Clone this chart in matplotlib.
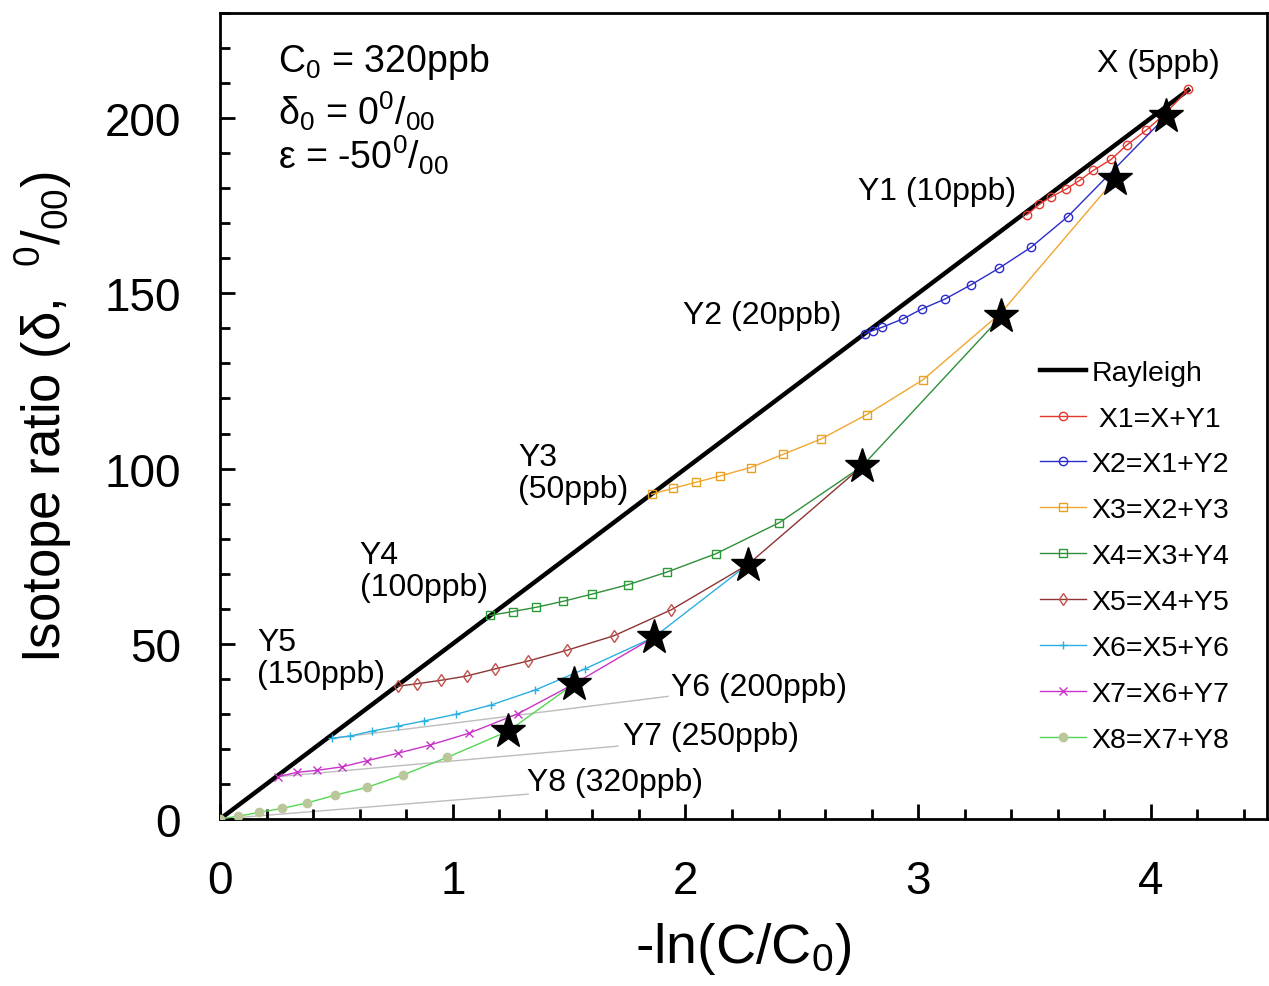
import matplotlib
matplotlib.use('Agg')
import matplotlib.pyplot as plt
from matplotlib.ticker import MultipleLocator

plt.rcParams['font.family'] = ['Liberation Sans', 'DejaVu Sans']
plt.rcParams['mathtext.fontset'] = 'custom'
plt.rcParams['mathtext.rm'] = 'Liberation Sans'
plt.rcParams['mathtext.it'] = 'Liberation Sans:italic'

# Rayleigh line end points
ray_x = [0.0, 4.16]
ray_y = [0.0, 208.0]

# mixing curves
x1_x = [4.161, 4.065, 3.979, 3.896, 3.829, 3.753, 3.691, 3.634, 3.571, 3.520, 3.467]
x1_y = [208.2, 201.5, 196.5, 192.3, 188.2, 185.1, 182.1, 179.7, 177.5, 175.4, 172.4]
x2_x = [4.065, 3.643, 3.484, 3.348, 3.226, 3.116, 3.018, 2.934, 2.844, 2.806, 2.772]
x2_y = [200.5, 171.9, 163.1, 157.2, 152.4, 148.4, 145.6, 142.7, 140.3, 139.4, 138.5]
x3_x = [3.846, 3.357, 3.022, 2.779, 2.581, 2.421, 2.280, 2.149, 2.046, 1.948, 1.855]
x3_y = [182.6, 144.5, 125.4, 115.4, 108.4, 104.1, 100.3, 97.9, 96.1, 94.4, 92.7]
x4_x = [3.357, 2.758, 2.404, 2.131, 1.922, 1.755, 1.600, 1.473, 1.357, 1.258, 1.160]
x4_y = [143.4, 100.6, 84.6, 75.7, 70.5, 66.9, 64.2, 62.1, 60.4, 59.2, 58.1]
x5_x = [2.758, 2.268, 1.939, 1.693, 1.493, 1.325, 1.180, 1.060, 0.951, 0.847, 0.764]
x5_y = [100.6, 72.6, 59.7, 52.3, 48.2, 45.1, 42.8, 40.8, 39.6, 38.6, 37.9]
x6_x = [2.268, 1.865, 1.570, 1.354, 1.163, 1.014, 0.878, 0.764, 0.654, 0.559, 0.480]
x6_y = [72.6, 51.9, 42.9, 36.8, 32.5, 29.9, 28.0, 26.5, 25.1, 23.7, 23.0]
x7_x = [1.865, 1.520, 1.282, 1.071, 0.902, 0.766, 0.630, 0.526, 0.418, 0.330, 0.251]
x7_y = [51.9, 38.5, 30.1, 24.5, 21.1, 18.8, 16.6, 14.9, 13.9, 13.3, 12.1]
x8_x = [1.520, 1.239, 0.977, 0.788, 0.630, 0.494, 0.375, 0.265, 0.169, 0.079, 0.0]
x8_y = [38.5, 25.1, 17.6, 12.6, 9.0, 6.8, 4.6, 3.0, 1.9, 0.8, 0.0]

# mixture points (stars)
star_x = [4.065, 3.846, 3.357, 2.758, 2.268, 1.865, 1.520, 1.239]
star_y = [200.5, 182.6, 143.4, 100.6, 72.6, 51.9, 38.5, 25.1]

labels = [' X1=X+Y1', 'X2=X1+Y2', 'X3=X2+Y3', 'X4=X3+Y4',
          'X5=X4+Y5', 'X6=X5+Y6', 'X7=X6+Y7', 'X8=X7+Y8']

# end-member labels: text, x, y
end_labels = ['X (5ppb)', 'Y1 (10ppb)', 'Y2 (20ppb)', 'Y3\n(50ppb)',
              'Y4\n(100ppb)', 'Y5\n(150ppb)', 'Y6 (200ppb)', 'Y7 (250ppb)', 'Y8 (320ppb)']
end_lx = [3.77, 2.74, 1.99, 1.28, 0.60, 0.16, 1.94, 1.73, 1.32]
end_ly = [215.6, 179.2, 143.7, 98.7, 70.8, 46.0, 37.8, 23.6, 10.5]

# leader lines for Y6, Y7, Y8
lead_x = [[1.925, 0.48], [1.71, 0.251], [1.324, 0.0]]
lead_y = [[35.0, 23.0], [20.8, 12.1], [7.1, 0.0]]

fig = plt.figure(figsize=(12.69, 9.87), dpi=100)
ax = fig.add_axes([0.1734, 0.1692, 0.8252, 0.8166])

for lx, ly in zip(lead_x, lead_y):
    ax.plot(lx, ly, color='#bdbdbd', lw=1.0, zorder=1)

ax.plot(ray_x, ray_y, color='black', lw=3.2, label='Rayleigh', zorder=3)

styles = [
    dict(color='#e5352f', marker='o', mfc='none', mec='#e5352f'),
    dict(color='#2b2bcc', marker='o', mfc='none', mec='#2b2bcc'),
    dict(color='#f2a630', marker='s', mfc='none', mec='#e8a020'),
    dict(color='#2f8f3a', marker='s', mfc='none', mec='#2a9a35'),
    dict(color='#8e3434', marker='d', mfc='none', mec='#c0504d'),
    dict(color='#2ab0e0', marker='+', mfc='none', mec='#2ab0e0'),
    dict(color='#c933c9', marker='x', mfc='none', mec='#c933c9'),
    dict(color='#55d655', marker='o', mfc='#b9c79b', mec='#b9c79b'),
]
series = [(x1_x, x1_y), (x2_x, x2_y), (x3_x, x3_y), (x4_x, x4_y),
          (x5_x, x5_y), (x6_x, x6_y), (x7_x, x7_y), (x8_x, x8_y)]
for (sx, sy), st, lab in zip(series, styles, labels):
    ax.plot(sx, sy, lw=1.0, ms=6, mew=1.0, label=lab, zorder=4, **st)

ax.plot(star_x, star_y, linestyle='none', marker='*', ms=26, color='black', zorder=6)

for t, tx, ty in zip(end_labels, end_lx, end_ly):
    ax.text(tx, ty, t, fontsize=23, ha='left', va='center', linespacing=1.1)

ax.text(0.25, 216.2, r'C$\mathregular{_0}$ = 320ppb', fontsize=27, va='center')
ax.text(0.25, 202.4, r'δ$\mathregular{_0}$ = 0$\mathregular{^0/_{00}}$', fontsize=27, va='center')
ax.text(0.25, 189.8, r'ε = -50$\mathregular{^0/_{00}}$', fontsize=27, va='center')

ax.set_xlim(0, 4.5)
ax.set_ylim(0, 230)
ax.xaxis.set_major_locator(MultipleLocator(1))
ax.xaxis.set_minor_locator(MultipleLocator(0.2))
ax.yaxis.set_major_locator(MultipleLocator(50))
ax.yaxis.set_minor_locator(MultipleLocator(10))
ax.tick_params(which='both', direction='in', top=False, right=False, width=2)
ax.tick_params(which='major', length=11, labelsize=33)
ax.tick_params(axis='x', which='major', pad=29)
ax.tick_params(axis='y', which='major', pad=28)
ax.tick_params(which='minor', length=7)
for sp in ax.spines.values():
    sp.set_linewidth(2)

ax.set_xlabel(r'-ln(C/C$\mathregular{_0}$)', fontsize=40, labelpad=12)
ax.set_ylabel(r'Isotope ratio (δ,  $\mathregular{^0/_{00}}$)', fontsize=38, labelpad=22)

ax.legend(loc='upper left', bbox_to_anchor=(0.783, 0.570), frameon=False, fontsize=20.5,
          handlelength=1.6, handletextpad=0.2, labelspacing=0.7, borderpad=0, borderaxespad=0)

fig.savefig('out.png', dpi=100)
